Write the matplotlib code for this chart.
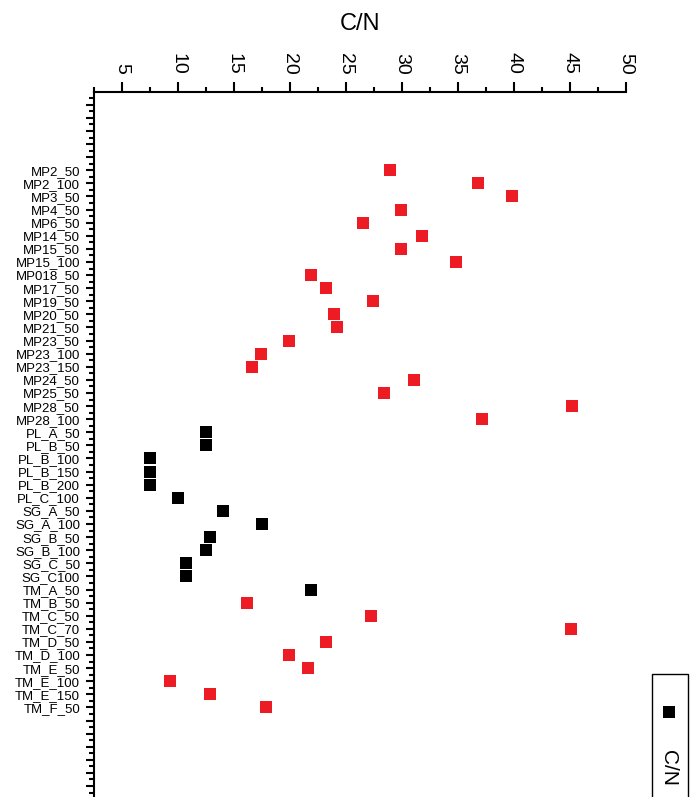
import matplotlib
matplotlib.use("Agg")
import matplotlib.pyplot as plt
from matplotlib.lines import Line2D
from matplotlib.patches import Rectangle
from matplotlib.ticker import MultipleLocator, FixedLocator

plt.rcParams['font.family'] = ['Liberation Sans', 'DejaVu Sans']

# samples, top to bottom
samples = ['MP2_50', 'MP2_100', 'MP3_50', 'MP4_50', 'MP6_50', 'MP14_50', 'MP15_50',
           'MP15_100', 'MP018_50', 'MP17_50', 'MP19_50', 'MP20_50', 'MP21_50',
           'MP23_50', 'MP23_100', 'MP23_150', 'MP24_50', 'MP25_50', 'MP28_50',
           'MP28_100', 'PL_A_50', 'PL_B_50', 'PL_B_100', 'PL_B_150', 'PL_B_200',
           'PL_C_100', 'SG_A_50', 'SG_A_100', 'SG_B_50', 'SG_B_100', 'SG_C_50',
           'SG_C100', 'TM_A_50', 'TM_B_50', 'TM_C_50', 'TM_C_70', 'TM_D_50',
           'TM_D_100', 'TM_E_50', 'TM_E_100', 'TM_E_150', 'TM_F_50']

cn = [28.9, 36.8, 39.8, 29.9, 26.5, 31.8, 29.9,
      34.8, 21.9, 23.2, 27.4, 23.9, 24.2,
      19.9, 17.4, 16.6, 31.1, 28.4, 45.2,
      37.1, 12.5, 12.5, 7.5, 7.5, 7.5,
      10.0, 14.0, 17.5, 12.9, 12.5, 10.7,
      10.7, 21.9, 16.2, 27.2, 45.1, 23.2,
      19.9, 21.6, 9.3, 12.9, 17.9]

# 1 = plotted in the dark group, 0 = red group
dark = [0] * 20 + [1] * 13 + [0] * 9

fig = plt.figure(figsize=(6.93, 7.97), dpi=100)
# axes runs past the bottom edge, like the cropped original
ax = fig.add_axes([0.1356, -0.0109, 0.7677, 0.8959])

ypos = list(range(len(samples)))
red_y = [y for y, d in zip(ypos, dark) if d == 0]
red_x = [v for v, d in zip(cn, dark) if d == 0]
blk_y = [y for y, d in zip(ypos, dark) if d == 1]
blk_x = [v for v, d in zip(cn, dark) if d == 1]

ax.plot(red_x, red_y, 's', color='#ed1c24', ms=8.6, mew=0, linestyle='none')
ax.plot(blk_x, blk_y, 's', color='black', ms=8.6, mew=0, linestyle='none')

ax.set_xlim(2.5, 50)
ax.set_ylim(48.5, -6)

# only top and left lines
for side in ['right', 'bottom']:
    ax.spines[side].set_visible(False)
for side in ['left', 'top']:
    ax.spines[side].set_linewidth(1.5)

ax.set_xticks(range(5, 51, 5))
ax.xaxis.set_minor_locator(MultipleLocator(2.5))
ax.tick_params(axis='x', which='both', top=True, bottom=False, labeltop=True,
               labelbottom=False, direction='out', width=1.5)
ax.tick_params(axis='x', which='major', length=7, labelsize=14, labelrotation=-90, pad=5.5)
ax.tick_params(axis='x', which='minor', length=3.5)

tick_pos = list(range(-5, 49))
tick_lab = [samples[i] if 0 <= i < len(samples) else '' for i in tick_pos]
ax.yaxis.set_major_locator(FixedLocator(tick_pos))
ax.set_yticklabels(tick_lab)
ax.yaxis.set_minor_locator(FixedLocator([p - 0.5 for p in tick_pos]))
ax.tick_params(axis='y', which='both', direction='out', width=1.5)
ax.tick_params(axis='y', which='major', length=6, labelsize=9.5, pad=4)
ax.tick_params(axis='y', which='minor', length=3.5)

fig.text(0.5195, 1 - 23.5 / 797, 'C/N', ha='center', va='center', fontsize=17)

# legend box (cut by the figure edge)
fig.patches.append(Rectangle((651.7 / 693, -0.05), 36 / 693, 0.05 + 1 - 674 / 797,
                             transform=fig.transFigure, fill=False, lw=1.0,
                             edgecolor='black'))
fig.add_artist(Line2D([669 / 693], [1 - 712 / 797], marker='s', color='black',
                      ms=8.6, mew=0, linestyle='none', transform=fig.transFigure))
fig.text(668 / 693, 1 - 750 / 797, 'C/N', rotation=-90, ha='center', va='top',
         fontsize=15)

fig.savefig('out.png', dpi=100)
